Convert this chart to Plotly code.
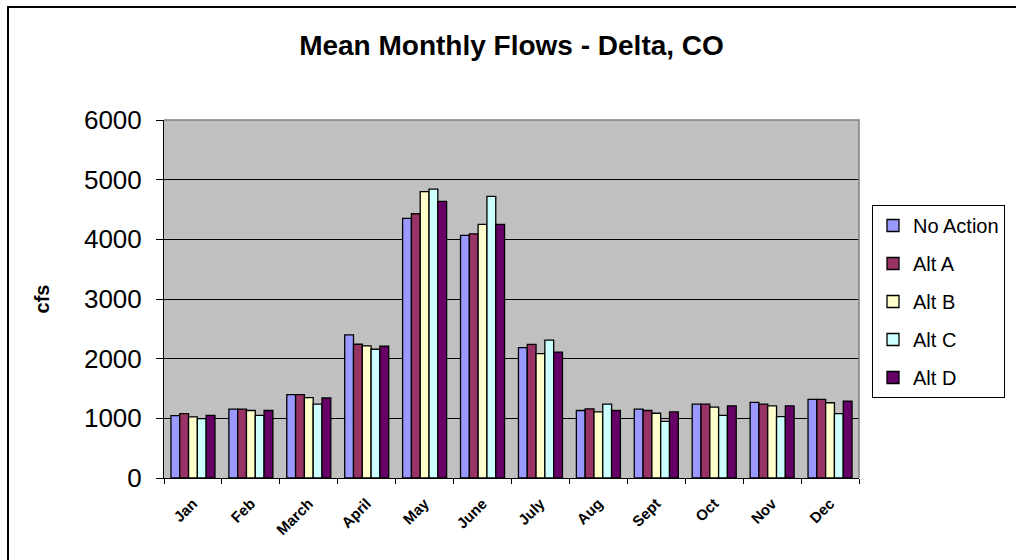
import plotly.graph_objects as go

months = ["Jan", "Feb", "March", "April", "May", "June", "July", "Aug", "Sept", "Oct", "Nov", "Dec"]
no_action = [1045, 1153, 1398, 2400, 4350, 4065, 2184, 1131, 1153, 1239, 1267, 1318]
alt_a = [1080, 1153, 1398, 2242, 4429, 4093, 2240, 1159, 1131, 1239, 1239, 1318]
alt_b = [1023, 1131, 1347, 2213, 4798, 4250, 2083, 1108, 1085, 1188, 1210, 1261]
alt_c = [994, 1051, 1239, 2158, 4843, 4720, 2312, 1239, 949, 1051, 1028, 1080]
alt_d = [1051, 1131, 1341, 2208, 4636, 4250, 2111, 1131, 1108, 1210, 1210, 1290]

series_names = ["No Action", "Alt A", "Alt B", "Alt C", "Alt D"]
series_values = [no_action, alt_a, alt_b, alt_c, alt_d]
series_colors = ["#9999FF", "#993366", "#FFFFCC", "#CCFFFF", "#660066"]
y_ticks = [0, 1000, 2000, 3000, 4000, 5000, 6000]

FONT = "Arial, 'Liberation Sans', sans-serif"

fig = go.Figure()
for name, vals, col in zip(series_names, series_values, series_colors):
    fig.add_trace(go.Bar(
        x=months, y=vals, name=name, legendgroup=name,
        marker=dict(color=col, line=dict(color="black", width=1.3)),
    ))

W, H = 1016, 560
L, R, T, B = 164, 157, 120, 82
pw = W - L - R
ph = H - T - B

def px_x(x):
    return (x - L) / pw

def px_y(y):
    return (H - B - y) / ph

bx0, by0, bx1, by1 = px_x(8), px_y(7), px_x(1030), px_y(580)
border_path = f"M {bx0},{by1} L {bx0},{by0} L {bx1},{by0}"

fig.update_layout(
    width=W, height=H,
    margin=dict(l=L, r=R, t=T, b=B, autoexpand=False),
    paper_bgcolor="white",
    plot_bgcolor="#C0C0C0",
    barmode="group",
    bargap=0.24,
    bargroupgap=0,
    font=dict(family=FONT, color="black"),
    title=dict(
        text="<b>Mean Monthly Flows - Delta, CO</b>",
        x=0.5, xref="paper", xanchor="center",
        y=1 - 45 / H, yref="container", yanchor="middle",
        font=dict(size=28, family=FONT, color="black"),
    ),
    xaxis=dict(
        type="category",
        tickangle=-45,
        tickfont=dict(size=15, family=FONT, color="black", weight="bold"),
        ticks="outside", ticklen=5, tickcolor="black",
        tickson="boundaries",
        ticklabelstandoff=10,
        showline=True, linecolor="black", linewidth=1,
        showgrid=False,
    ),
    yaxis=dict(
        range=[0, 6000],
        tickvals=y_ticks,
        tickfont=dict(size=26, family=FONT, color="black"),
        ticks="outside", ticklen=7, tickcolor="black",
        ticklabelstandoff=9,
        showline=True, linecolor="black", linewidth=1,
        showgrid=True, gridcolor="black", gridwidth=1,
        zeroline=False,
        title=dict(text="<b>cfs</b>", font=dict(size=20, family=FONT, color="black"), standoff=28),
    ),
    legend=dict(
        x=px_x(872), xanchor="left",
        y=px_y(205), yanchor="top",
        bgcolor="white", bordercolor="black", borderwidth=1,
        font=dict(size=20, family=FONT, color="black"),
        tracegroupgap=9,
        traceorder="grouped",
    ),
    shapes=[
        dict(type="path", xref="paper", yref="paper",
             path="M 0,1 L 1,1 L 1,0",
             line=dict(color="#808080", width=1.5), layer="above"),
        dict(type="path", xref="paper", yref="paper",
             path=border_path,
             line=dict(color="black", width=2), layer="above"),
    ],
)

fig.write_html(
    "out.html",
    config={"displayModeBar": False},
    post_script="document.body.style.margin='0';document.documentElement.style.overflow='hidden';document.body.style.overflow='hidden';",
)
